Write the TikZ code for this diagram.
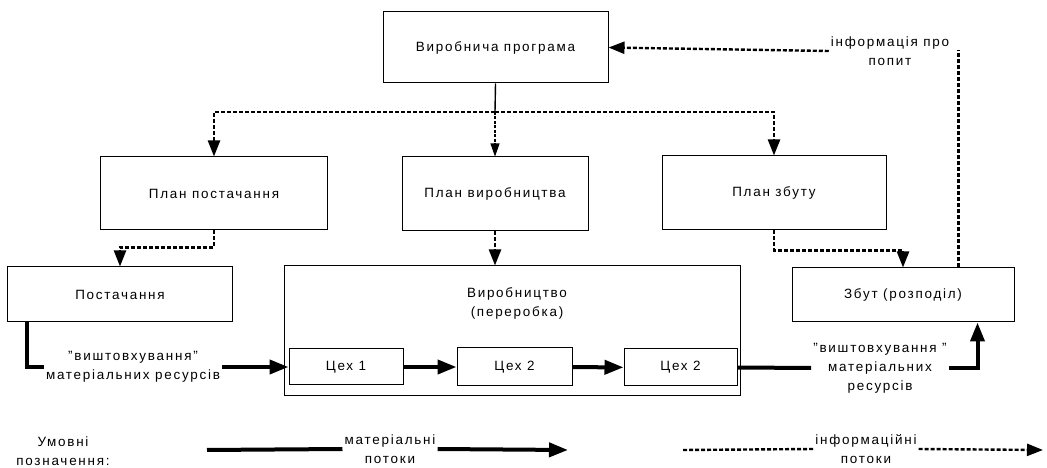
\documentclass[tikz,border=0pt]{standalone}
\usepackage{fontspec}
\setmainfont[LetterSpace=13]{Liberation Sans}
\usetikzlibrary{arrows.meta,calc}

\tikzset{
  blok/.style={draw, line width=1bp, inner sep=0pt},
  infol/.style={line width=2.4bp, dash pattern=on 4bp off 2bp},
  info/.style={infol, -{Triangle[length=16bp,width=12bp]}},
  infothin/.style={line width=1.1bp, dash pattern=on 3bp off 1.5bp, -{Triangle[length=13bp,width=9bp]}},
  matl/.style={line width=4bp},
  mat/.style={matl, -{Triangle[length=19bp,width=14bp]}},
  txt/.style={align=center, inner sep=2bp}
}

\begin{document}
\begin{tikzpicture}[x=1bp, y=-1bp, font=\fontsize{13.5}{19}\selectfont]
\useasboundingbox[fill=white] (0,0) rectangle (1047,468);

\node[blok, minimum width=225bp, minimum height=71bp] (prog) at (495.5,47.5) {Виробнича програма};
\node[blok, minimum width=226bp, minimum height=73bp] (plpost) at (214,193.5) {План постачання};
\node[blok, minimum width=186bp, minimum height=74bp] (plvyr) at (495,194) {План виробництва};
\node[blok, minimum width=224bp, minimum height=74bp] (plzb) at (774,193) {План збуту};
\node[blok, minimum width=224bp, minimum height=55bp] (post) at (120,294.5) {Постачання};
\node[blok, minimum width=456bp, minimum height=129bp] (vyr) at (512,330.5) {};
\node[txt] (vyrtxt) at (517,303) {Виробництво\\(переробка)};
\node[blok, minimum width=222bp, minimum height=54bp] (zbut) at (903,295) {Збут (розподіл)};
\node[blok, minimum width=114bp, minimum height=36bp] (cex1) at (346,367) {Цех 1};
\node[blok, minimum width=115bp, minimum height=38bp] (cex2) at (514.5,367) {Цех 2};
\node[blok, minimum width=113bp, minimum height=37bp] (cex3) at (680.5,367.5) {Цех 2};

\node[txt] (popyt) at (890,51) {інформація про\\попит};
\node[txt] (vyshtl) at (133,367) {"виштовхування"\\матеріальних ресурсів};
\node[txt] (vyshtr) at (880,368) {"виштовхування "\\матеріальних\\ресурсів};

\coordinate (split) at (495,112);
\draw[line width=1.4bp] (prog.south) -- (split);
\draw[info] (split) -| (plpost.north);
\draw[info] (split) -| (plzb.north);
\draw[infothin] (split) -- (plvyr.north);
\draw[info] (plpost.south) -- ++(0,17) -| (post.north);
\draw[info] (plvyr.south) -- (plvyr.south |- vyr.north);
\draw[info] (plzb.south) -- ++(0,20) -| (zbut.north);
\draw[infol] ($(zbut.north east)+(-56,0)$) -- ++(0,-217);
\draw[info] (popyt.west) -- (prog.east);

\draw[matl] ($(post.south west)+(20,0)$) |- (vyshtl.west);
\draw[mat] (vyshtl.east) -- (cex1.west);
\draw[mat] (cex1) -- (cex2);
\draw[mat] (cex2) -- (cex3);
\draw[matl] (cex3.east) -- (vyshtr.west);
\draw[mat] (vyshtr.east) -| ($(zbut.south east)+(-37,0)$);

% legend
\node[txt] (umov) at (63,451) {Умовні\\позначення:};
\coordinate (mat0) at (207,450);
\node[txt] (mattxt) at (390,449) {матеріальні\\потоки};
\coordinate (mat1) at (568,450);
\draw[matl] (mat0) -- (mattxt.west);
\draw[mat] (mattxt.east) -- (mat1);
\coordinate (inf0) at (683,450);
\node[txt] (inftxt) at (866,449) {інформаційні\\потоки};
\coordinate (inf1) at (1043,450);
\draw[infol] (inf0) -- (inftxt.west);
\draw[info] (inftxt.east) -- (inf1);
\end{tikzpicture}
\end{document}
